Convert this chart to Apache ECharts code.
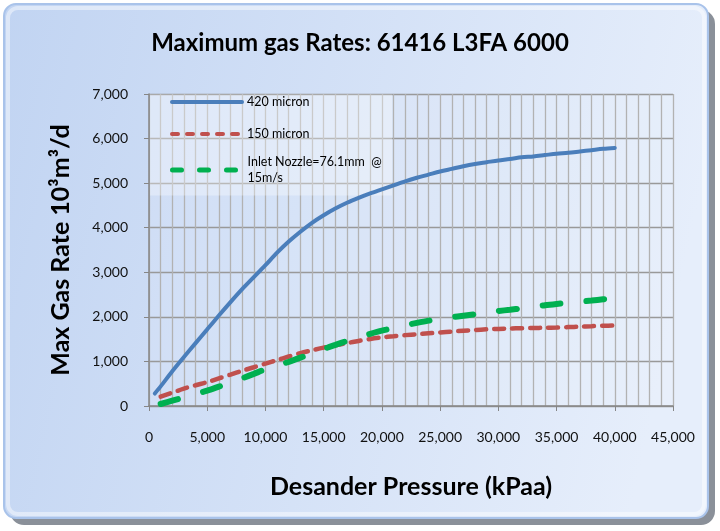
<!DOCTYPE html>
<html>
<head>
<meta charset="utf-8">
<script src="https://cdn.jsdelivr.net/npm/echarts@6/dist/echarts.min.js"></script>
<style>
html,body{margin:0;padding:0;background:#fff;}
#chart{width:720px;height:531px;}
</style>
</head>
<body>
<div id="chart"></div>
<script>
// ---- data ----
var titleText = 'Maximum gas Rates: 61416 L3FA 6000';
var xAxisName = 'Desander Pressure (kPaa)';
var yAxisName = 'Max Gas Rate 10³m³/d';
var seriesNames = ['420 micron', '150 micron', 'Inlet Nozzle=76.1mm  @\n15m/s'];

var bluePressure = [500,1000,2000,3000,4000,5000,6000,7000,8000,9000,10000,11000,12000,13000,14000,15000,16000,17000,18000,19000,20000,21000,22000,23000,24000,25000,26000,27000,28000,29000,30000,31000,32000,33000,34000,35000,36000,37000,38000,39000,40000];
var blueRate = [280,440,780,1100,1410,1720,2030,2330,2620,2890,3160,3440,3690,3910,4110,4280,4430,4560,4670,4770,4860,4950,5040,5120,5190,5260,5320,5380,5430,5470,5510,5540,5580,5600,5630,5660,5680,5710,5740,5770,5790];

var pressure = [1000,2000,3000,4000,5000,6000,7000,8000,9000,10000,11000,12000,13000,14000,15000,16000,17000,18000,19000,20000,21000,22000,23000,24000,25000,26000,27000,28000,29000,30000,31000,32000,33000,34000,35000,36000,37000,38000,39000,40000];
var redRate = [210,300,390,465,535,620,705,790,870,950,1030,1110,1185,1250,1310,1360,1410,1460,1505,1540,1565,1590,1610,1630,1650,1670,1690,1705,1720,1730,1740,1745,1750,1755,1760,1770,1780,1790,1800,1805];
var greenRate = [45,120,195,270,345,435,525,620,720,825,905,990,1085,1185,1280,1370,1460,1545,1620,1690,1750,1810,1865,1915,1955,1990,2025,2060,2095,2130,2160,2190,2220,2260,2290,2315,2340,2365,2395,2420];

function pairs(xs, ys) { return xs.map(function (x, i) { return [x, ys[i]]; }); }
function fmt(v) { return Number(v).toLocaleString('en-US'); }

var FONT = 'Lato';
var noSymbol = { opacity: 0 };
var chart = echarts.init(document.getElementById('chart'));
var option = {
  backgroundColor: '#ffffff',
  animation: false,
  textStyle: { fontFamily: FONT },
  title: {
    text: titleText,
    left: 'center',
    top: 31,
    padding: 0,
    textStyle: { fontFamily: FONT, fontSize: 24, fontWeight: 'bold', color: '#000' }
  },
  graphic: [
    { type: 'rect', z: -10, shape: { x: 10, y: 10, width: 705, height: 515, r: 14 },
      style: { fill: '#8a9099' } },
    { type: 'rect', z: -9, shape: { x: 4, y: 4, width: 704, height: 514, r: 12 },
      style: { fill: new echarts.graphic.LinearGradient(0, 0, 1, 0.3, [
          { offset: 0, color: '#c1d4f2' }, { offset: 1, color: '#e6eefb' }]),
        stroke: '#a9c3ea', lineWidth: 2 } },
    { type: 'rect', z: -8, shape: { x: 8, y: 8, width: 696, height: 506, r: 10 },
      style: { fill: 'none', stroke: 'rgba(255,255,255,0.45)', lineWidth: 4 } },
    { type: 'rect', z: 3, shape: { x: 150, y: 94.5, width: 242, height: 101 },
      style: { fill: 'rgba(255,255,255,0.32)' } }
  ],
  legend: [
    {
      orient: 'vertical', left: 170, top: 95, padding: 0,
      itemWidth: 70, itemHeight: 14, itemGap: 18,
      textStyle: { fontFamily: FONT, fontSize: 12.5, lineHeight: 14, color: '#000' },
      data: [
        { name: seriesNames[0], itemStyle: noSymbol, lineStyle: { width: 4, type: 'solid', cap: 'round' } },
        { name: seriesNames[1], itemStyle: noSymbol, lineStyle: { width: 4, type: [6, 9], cap: 'round' } }
      ]
    },
    {
      orient: 'vertical', left: 170, top: 146, padding: 0,
      itemWidth: 70, itemHeight: 14,
      textStyle: { fontFamily: FONT, fontSize: 12.5, lineHeight: 16, color: '#000' },
      data: [
        { name: seriesNames[2], itemStyle: noSymbol, lineStyle: { width: 5, type: [9, 18], cap: 'round' },
          textStyle: { padding: [16, 0, 0, 0], lineHeight: 16 } }
      ]
    }
  ],
  grid: {
    left: 149, right: 47, top: 94, bottom: 125,
    show: true, borderWidth: 0, backgroundColor: 'rgba(255,255,255,0.10)'
  },
  xAxis: {
    type: 'value', min: 0, max: 45000, interval: 5000,
    name: xAxisName, nameLocation: 'middle', nameGap: 68,
    nameTextStyle: { fontFamily: FONT, fontSize: 25, fontWeight: 'bold', color: '#000' },
    axisLine: { show: true, lineStyle: { color: '#868686', width: 1.5 } },
    axisTick: { show: true, length: 5, lineStyle: { color: '#868686' } },
    axisLabel: { margin: 24, fontSize: 14, color: '#111', fontFamily: FONT, formatter: fmt },
    splitLine: { show: true, lineStyle: { color: '#b2b2b2', width: 1.3 } },
    minorTick: { show: false, splitNumber: 5 },
    minorSplitLine: { show: true, lineStyle: { color: '#b2b2b2', width: 1.3 } }
  },
  yAxis: {
    type: 'value', min: 0, max: 7000, interval: 1000,
    name: yAxisName, nameLocation: 'middle', nameGap: 76, nameRotate: 90,
    nameTextStyle: { fontFamily: FONT, fontSize: 25, fontWeight: 'bold', color: '#000' },
    axisLine: { show: true, lineStyle: { color: '#868686', width: 1.5 } },
    axisTick: { show: true, length: 5, lineStyle: { color: '#868686' } },
    axisLabel: { margin: 21, fontSize: 14, color: '#111', fontFamily: FONT, formatter: fmt },
    splitLine: { show: true, lineStyle: { color: '#999999', width: 1.3 } }
  },
  series: [
    {
      name: seriesNames[0], type: 'line', data: pairs(bluePressure, blueRate),
      symbol: 'none', showSymbol: false, smooth: 0.3,
      lineStyle: { color: '#4a7ebb', width: 4, cap: 'round' },
      itemStyle: { color: '#4a7ebb' }
    },
    {
      name: seriesNames[1], type: 'line', data: pairs(pressure, redRate),
      symbol: 'none', showSymbol: false, smooth: 0.3,
      lineStyle: { color: '#c0504d', width: 4.5, type: [10, 8], cap: 'round' },
      itemStyle: { color: '#c0504d' }
    },
    {
      name: seriesNames[2], type: 'line', data: pairs(pressure, greenRate),
      symbol: 'none', showSymbol: false, smooth: 0.3,
      lineStyle: { color: '#00b050', width: 6, type: [18, 26], cap: 'round' },
      itemStyle: { color: '#00b050' }
    }
  ]
};
chart.setOption(option);
</script>
</body>
</html>
